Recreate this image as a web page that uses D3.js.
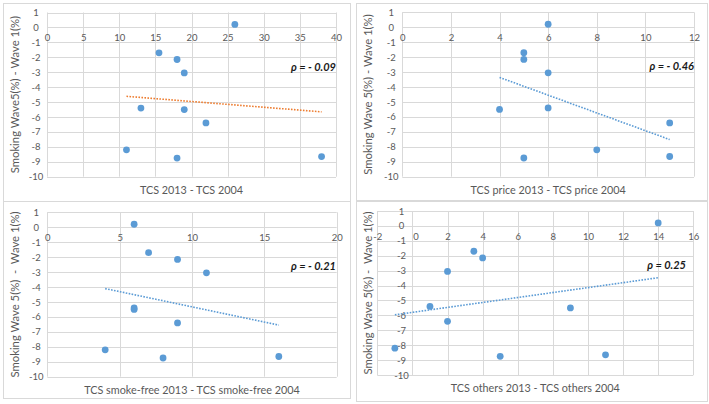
<!DOCTYPE html>
<html>
<head>
<meta charset="utf-8">
<script src="https://cdn.jsdelivr.net/npm/d3@7"></script>
<style>
body { margin: 0; background: #fff; }
text { font-family: Lato, "Open Sans", sans-serif; fill: #595959; }
</style>
</head>
<body>
<svg id="chart" width="709" height="404"></svg>
<script>
// one value per country, same order in every array
var smokingChange = [0.2, -1.7, -2.15, -3.05, -5.4, -5.5, -6.4, -8.2, -8.75, -8.65];
var tcsTotal      = [26, 15.5, 18, 19, 13, 19, 22, 11, 18, 38];
var tcsPrice      = [6, 5, 5, 6, 6, 4, 11, 8, 5, 11];
var tcsSmokeFree  = [6, 7, 9, 11, 6, 6, 9, 4, 8, 16];
var tcsOthers     = [14, 3.5, 4, 2, 1, 9, 2, -1, 5, 11];

var yTicks = [1, 0, -1, -2, -3, -4, -5, -6, -7, -8, -9, -10];
var xTicksTotal     = [0, 5, 10, 15, 20, 25, 30, 35, 40];
var xTicksPrice     = [0, 2, 4, 6, 8, 10, 12];
var xTicksSmokeFree = [0, 5, 10, 15, 20];
var xTicksOthers    = [-2, 0, 2, 4, 6, 8, 10, 12, 14, 16];

var xTitles = ["TCS 2013 - TCS 2004", "TCS price 2013 - TCS price 2004",
               "TCS smoke-free 2013 - TCS smoke-free 2004", "TCS others 2013 - TCS others 2004"];
var yTitles = ["Smoking Wave5(%) - Wave 1(%)", "Smoking Wave 5(%) - Wave 1(%)",
               "Smoking Wave 5(%)  -  Wave 1(%)", "Smoking Wave 5(%) -  Wave 1(%)"];
var rhoLabels = ["\u03c1 = - 0.09", "\u03c1 = - 0.46", "\u03c1 = - 0.21", "\u03c1 = 0.25"];

var panels = [
    {xs: tcsTotal, ticks: xTicksTotal, frame: [3, 3, 347, 198], plot: [47, 12.5, 336, 176.7], trend: "#ed7d31", rhoRight: 336},
    {xs: tcsPrice, ticks: xTicksPrice, frame: [356, 3, 351, 197], plot: [402.3, 12.3, 694, 176.7], trend: "#5b9bd5", rhoRight: 694},
    {xs: tcsSmokeFree, ticks: xTicksSmokeFree, frame: [3, 201, 347, 197], plot: [47.3, 212.3, 336.7, 376.7], trend: "#5b9bd5", rhoRight: 336},
    {xs: tcsOthers, ticks: xTicksOthers, frame: [356, 201, 351, 200], plot: [377.3, 211, 693.3, 375], trend: "#5b9bd5", rhoRight: 686}
];

var svg = d3.select("#chart");

function linearFit(xs, ys) {
    var mx = d3.mean(xs), my = d3.mean(ys);
    var sxy = d3.sum(xs, function(d, i) { return (d - mx) * (ys[i] - my); });
    var sxx = d3.sum(xs, function(d) { return (d - mx) * (d - mx); });
    var b = sxy / sxx;
    return function(x) { return my + b * (x - mx); };
}

panels.forEach(function(p, k) {
    var g = svg.append("g");
    var f = p.frame, a = p.plot;

    g.append("rect")
        .attr("x", f[0] + 0.5).attr("y", f[1] + 0.5)
        .attr("width", f[2]).attr("height", f[3])
        .attr("fill", "#fff").attr("stroke", "#d9d9d9");

    var x = d3.scaleLinear().domain(d3.extent(p.ticks)).range([a[0], a[2]]);
    var y = d3.scaleLinear().domain([-10, 1]).range([a[3], a[1]]);

    // gridlines
    g.selectAll("line.h").data(yTicks).enter().append("line")
        .attr("x1", a[0]).attr("x2", a[2])
        .attr("y1", function(d) { return Math.round(y(d)) + 0.5; })
        .attr("y2", function(d) { return Math.round(y(d)) + 0.5; })
        .attr("stroke", "#d9d9d9");
    g.selectAll("line.v").data(p.ticks).enter().append("line")
        .attr("y1", a[1]).attr("y2", a[3])
        .attr("x1", function(d) { return Math.round(x(d)) + 0.5; })
        .attr("x2", function(d) { return Math.round(x(d)) + 0.5; })
        .attr("stroke", "#d9d9d9");

    // tick labels: x labels hang under the zero line, y labels sit left of x = 0
    var xAxis = g.append("g").attr("transform", "translate(0," + y(0) + ")")
        .call(d3.axisBottom(x).tickValues(p.ticks).tickSize(0).tickPadding(7)
            .tickFormat(function(d) { return d; }));
    var yAxis = g.append("g").attr("transform", "translate(" + x(0) + ",0)")
        .call(d3.axisLeft(y).tickValues(yTicks).tickSize(0).tickPadding(0)
            .tickFormat(function(d) { return d; }));
    [xAxis, yAxis].forEach(function(ax) {
        ax.select(".domain").remove();
        ax.selectAll("text").attr("fill", "#595959")
            .style("font-size", "9.5px").style("font-family", "Lato, sans-serif");
    });
    yAxis.selectAll("text").attr("text-anchor", "middle").attr("x", -11);
    xAxis.selectAll(".tick").filter(function(d) { return d === 0 && p.ticks[0] < 0; })
        .select("text").attr("dx", 3);

    // axis titles
    g.append("text")
        .attr("x", (a[0] + a[2]) / 2).attr("y", a[3] + 17)
        .attr("text-anchor", "middle")
        .style("font-size", "10.8px")
        .text(xTitles[k]);
    g.append("text")
        .attr("transform", "translate(" + (f[0] + 16) + "," + ((a[1] + a[3]) / 2) + ") rotate(-90)")
        .attr("text-anchor", "middle")
        .style("font-size", "11.3px").style("white-space", "pre")
        .text(yTitles[k]);

    // trend line
    var fit = linearFit(p.xs, smokingChange);
    var ext = d3.extent(p.xs);
    g.append("line")
        .attr("x1", x(ext[0])).attr("y1", y(fit(ext[0])))
        .attr("x2", x(ext[1])).attr("y2", y(fit(ext[1])))
        .attr("stroke", p.trend).attr("stroke-width", 1.6)
        .attr("stroke-dasharray", "1.6,1.4");

    // points
    g.selectAll("circle").data(p.xs).enter().append("circle")
        .attr("cx", function(d) { return x(d); })
        .attr("cy", function(d, i) { return y(smokingChange[i]); })
        .attr("r", 3.4)
        .attr("fill", "#5b9bd5");

    g.append("text")
        .attr("x", p.rhoRight).attr("y", a[1] + 58)
        .attr("text-anchor", "end")
        .style("font-size", "11px").style("font-weight", "bold").style("font-style", "italic")
        .style("fill", "#1a1a1a")
        .text(rhoLabels[k]);
});
</script>
</body>
</html>
